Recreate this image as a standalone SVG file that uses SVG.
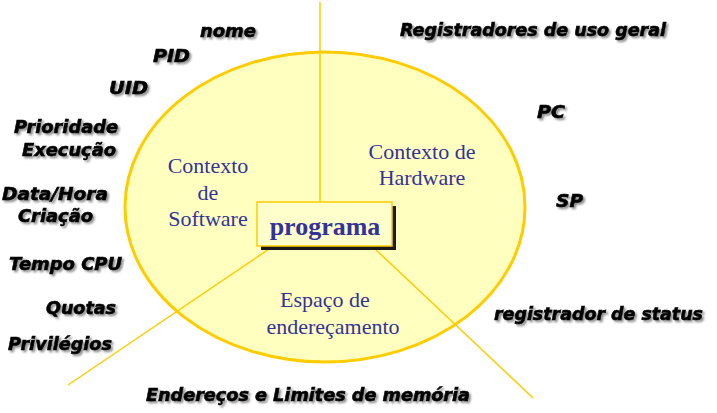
<svg xmlns="http://www.w3.org/2000/svg" width="717" height="413" viewBox="0 0 717 413">
<defs>
<filter id="sh" x="-10%" y="-30%" width="120%" height="160%">
<feGaussianBlur in="SourceAlpha" stdDeviation="1"/>
<feOffset dx="2" dy="2" result="b"/>
<feComponentTransfer><feFuncA type="linear" slope="0.45"/></feComponentTransfer>
<feMerge><feMergeNode/><feMergeNode in="SourceGraphic"/></feMerge>
</filter>
</defs>
<style>
.lbl{font-family:"DejaVu Sans",Verdana,sans-serif;font-weight:bold;font-style:italic;font-size:18.5px;fill:#000;stroke:#000;stroke-width:0.6;filter:url(#sh)}
.in{font-family:"Liberation Serif","Times New Roman",serif;font-size:22px;fill:#333399;text-anchor:middle}
.ln{stroke:#FFCC00;stroke-width:1.5;fill:none}
</style>
<rect width="717" height="413" fill="#fff"/>
<g id="ellipse">
<ellipse cx="325" cy="207" rx="200" ry="155" fill="#FFFFC0" stroke="#FFCC00" stroke-width="3"/>
</g>
<g id="connectors">
<line class="ln" x1="320" y1="2" x2="320" y2="203"/>
<line class="ln" x1="272" y1="247" x2="68" y2="385"/>
<line class="ln" x1="373" y1="247" x2="533" y2="398"/>
</g>
<g id="sw">
<text class="in"><tspan x="208" y="173">Contexto</tspan><tspan x="208" y="200">de</tspan><tspan x="208" y="226">Software</tspan></text>
</g>
<g id="hw">
<text class="in"><tspan x="422" y="159">Contexto de</tspan><tspan x="422" y="185">Hardware</tspan></text>
</g>
<g id="mem">
<text class="in"><tspan x="325" y="307">Espaço de</tspan><tspan x="333" y="334">endereçamento</tspan></text>
</g>
<g id="programa">
<rect x="261" y="206" width="135" height="44" fill="#1a1a1a"/>
<rect x="257" y="202" width="135" height="44" fill="#FFFFCC" stroke="#FFCC00" stroke-width="1.5"/>
<text x="325" y="235" font-family="Liberation Serif,serif" font-weight="bold" font-size="26" fill="#333399" text-anchor="middle">programa</text>
</g>
<g id="labels">
<text class="lbl" x="200" y="37" textLength="56" lengthAdjust="spacingAndGlyphs">nome</text>
<text class="lbl" x="153" y="62" textLength="37" lengthAdjust="spacingAndGlyphs">PID</text>
<text class="lbl" x="109" y="94" textLength="39" lengthAdjust="spacingAndGlyphs">UID</text>
<text class="lbl" x="14" y="133" textLength="104" lengthAdjust="spacingAndGlyphs">Prioridade</text>
<text class="lbl" x="22" y="156" textLength="94" lengthAdjust="spacingAndGlyphs">Execução</text>
<text class="lbl" x="2" y="200" textLength="106" lengthAdjust="spacingAndGlyphs">Data/Hora</text>
<text class="lbl" x="18" y="222" textLength="75" lengthAdjust="spacingAndGlyphs">Criação</text>
<text class="lbl" x="9" y="270" textLength="113" lengthAdjust="spacingAndGlyphs">Tempo CPU</text>
<text class="lbl" x="46" y="314" textLength="70" lengthAdjust="spacingAndGlyphs">Quotas</text>
<text class="lbl" x="8" y="350" textLength="104" lengthAdjust="spacingAndGlyphs">Privilégios</text>
<text class="lbl" x="146" y="401" textLength="324" lengthAdjust="spacingAndGlyphs">Endereços e Limites de memória</text>
<text class="lbl" x="400" y="36" textLength="266" lengthAdjust="spacingAndGlyphs">Registradores de uso geral</text>
<text class="lbl" x="537" y="118" textLength="28" lengthAdjust="spacingAndGlyphs">PC</text>
<text class="lbl" x="556" y="207" textLength="27" lengthAdjust="spacingAndGlyphs">SP</text>
<text class="lbl" x="494" y="320" textLength="209" lengthAdjust="spacingAndGlyphs">registrador de status</text>
</g>
</svg>
